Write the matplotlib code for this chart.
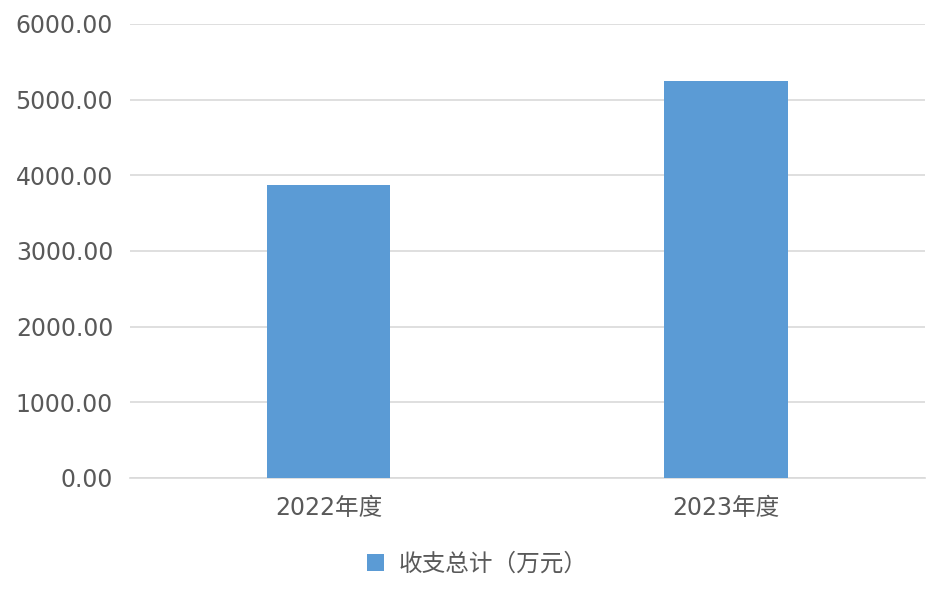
import matplotlib
matplotlib.use("Agg")
import matplotlib.pyplot as plt
from matplotlib.ticker import FormatStrFormatter

plt.rcParams['font.family'] = ['DejaVu Sans', 'Noto Sans CJK SC']

years = ['2022年度', '2023年度']
totals = [3868, 5250]
series_name = '收支总计（万元）'

fig = plt.figure(figsize=(9.34, 5.98), dpi=100)
ax = fig.add_axes([0.139, 0.2007, 0.851, 0.7592])

ax.bar(range(len(years)), totals, width=0.31, color='#5b9bd5', label=series_name, zorder=3)
ax.set_xlim(-0.5, len(years) - 0.5)
ax.set_ylim(0, 6000)
ax.set_yticks(range(0, 6001, 1000))
ax.yaxis.set_major_formatter(FormatStrFormatter('%.2f'))
ax.set_xticks(range(len(years)))
ax.set_xticklabels(years)
ax.grid(axis='y', color='#d9d9d9', lw=1.2, zorder=0)
for s in ['top', 'right', 'left']:
    ax.spines[s].set_visible(False)
ax.spines['bottom'].set_color('#d9d9d9')
ax.spines['bottom'].set_linewidth(1.2)
ax.tick_params(axis='both', length=0, labelsize=17, colors='#595959')
ax.tick_params(axis='y', pad=12)
ax.tick_params(axis='x', pad=13)

# legend under the chart, roughly centred
fig.legend(loc='center', bbox_to_anchor=(0.511, 0.057), frameon=False, fontsize=17,
           labelcolor='#595959', handlelength=0.7, handleheight=0.7, handletextpad=0.6)

fig.savefig('out.png', dpi=100)
